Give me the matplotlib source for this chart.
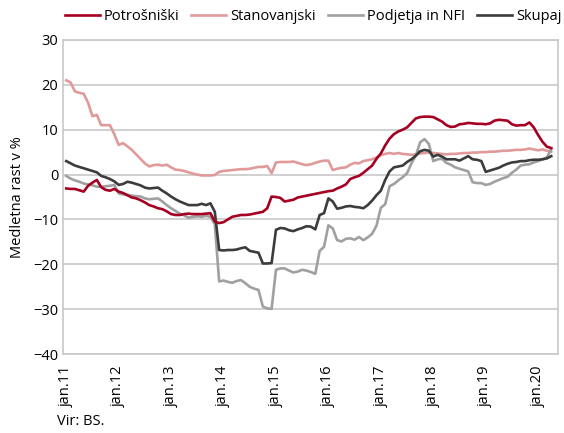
import numpy as np
import matplotlib
matplotlib.use('Agg')
import matplotlib.pyplot as plt

# monthly growth rates, jan.11 .. apr.20
potrosniski = [-3.1, -3.2, -3.2, -3.5, -3.8, -2.5, -1.8, -1.2, -2.8, -3.4,
               -3.6, -3.2, -3.8, -4.1, -4.6, -5.1, -5.3, -5.7, -6.2, -6.8,
               -7.1, -7.5, -7.7, -8.2, -8.8, -9.0, -9.0, -8.8, -8.7, -8.8,
               -8.8, -8.8, -8.7, -8.6, -10.5, -10.8, -10.6, -10.0, -9.4, -9.2,
               -9.0, -9.0, -8.9, -8.7, -8.5, -8.3, -7.5, -4.9, -5.0, -5.2,
               -6.0, -5.8, -5.6, -5.1, -4.9, -4.7, -4.5, -4.3, -4.1, -3.9,
               -3.7, -3.6, -3.1, -2.7, -2.2, -1.0, -0.6, -0.3, 0.4, 1.2,
               2.0, 3.5, 4.7, 6.5, 8.0, 9.0, 9.6, 10.0, 10.5, 11.5,
               12.5, 12.8, 12.9, 12.9, 12.8, 12.3, 11.8, 11.0, 10.6, 10.7,
               11.2, 11.3, 11.5, 11.4, 11.3, 11.3, 11.2, 11.4, 12.0, 12.2,
               12.1, 12.0, 11.2, 10.9, 11.0, 11.0, 11.6, 10.5, 8.8, 7.3,
               6.2, 5.9]

stanovanjski = [21.0, 20.5, 18.5, 18.2, 18.0, 16.0, 13.0, 13.3, 11.0, 11.0,
                11.0, 9.0, 6.6, 7.0, 6.3, 5.5, 4.5, 3.5, 2.5, 1.8,
                2.1, 2.2, 2.0, 2.2, 1.6, 1.1, 1.0, 0.8, 0.5, 0.2,
                0.0, -0.2, -0.2, -0.2, -0.1, 0.6, 0.8, 0.9, 1.0, 1.1,
                1.2, 1.2, 1.3, 1.5, 1.7, 1.7, 1.9, 0.3, 2.7, 2.8,
                2.8, 2.8, 2.9, 2.6, 2.3, 2.1, 2.3, 2.6, 2.9, 3.1,
                3.1, 1.0, 1.3, 1.5, 1.6, 2.2, 2.6, 2.5, 3.0, 3.2,
                3.4, 3.8, 4.3, 4.6, 4.8, 4.6, 4.8, 4.6, 4.5, 4.4,
                4.5, 4.7, 4.8, 4.9, 4.8, 4.7, 4.6, 4.5, 4.6, 4.6,
                4.7, 4.8, 4.8, 4.9, 4.9, 5.0, 5.0, 5.1, 5.1, 5.2,
                5.3, 5.3, 5.4, 5.5, 5.5, 5.6, 5.8, 5.6, 5.4, 5.6,
                5.3, 5.1]

podjetja = [-0.3, -0.9, -1.3, -1.6, -2.0, -2.2, -2.4, -2.7, -2.7, -2.6,
            -2.5, -2.3, -4.2, -4.4, -4.5, -4.7, -4.8, -4.9, -5.3, -5.5,
            -5.4, -5.3, -6.0, -6.8, -7.5, -8.1, -8.7, -9.1, -9.6, -9.4,
            -9.3, -9.4, -9.2, -9.4, -11.0, -23.8, -23.6, -23.9, -24.1, -23.7,
            -23.5, -24.2, -25.0, -25.4, -25.7, -29.4, -29.8, -29.9, -21.2, -20.9,
            -20.9, -21.4, -21.8, -21.6, -21.2, -21.4, -21.7, -22.1, -17.0, -16.1,
            -11.3, -12.0, -14.6, -14.9, -14.3, -14.2, -14.5, -13.9, -14.6, -14.0,
            -13.2, -11.4, -7.4, -6.6, -2.6, -2.1, -1.3, -0.6, 0.3, 2.5,
            4.2, 7.2, 7.9, 6.8, 3.0, 3.4, 3.5, 2.6, 2.2, 1.6,
            1.3, 1.0, 0.7, -1.7, -1.9, -1.9, -2.3, -2.1, -1.6, -1.2,
            -0.8, -0.5, 0.4, 1.1, 2.0, 2.2, 2.3, 2.7, 3.0, 3.4,
            3.8, 5.7]

skupaj = [3.0, 2.5, 2.0, 1.7, 1.4, 1.1, 0.8, 0.5, -0.3, -0.6,
          -1.0, -1.5, -2.3, -2.1, -1.6, -1.8, -2.1, -2.4, -2.9, -3.1,
          -3.0, -2.9, -3.6, -4.2, -4.9, -5.5, -6.0, -6.4, -6.8, -6.8,
          -6.8, -6.5, -6.8, -6.4, -8.3, -16.8, -16.9, -16.8, -16.8, -16.7,
          -16.4, -16.2, -17.0, -17.2, -17.4, -19.8, -19.8, -19.7, -12.3, -11.9,
          -12.0, -12.4, -12.6, -12.2, -11.9, -11.5, -11.6, -12.2, -9.0, -8.6,
          -5.3, -6.0, -7.6, -7.4, -7.1, -7.0, -7.2, -7.3, -7.5, -6.8,
          -5.8, -4.6, -3.6, -1.2, 0.7, 1.6, 1.8, 2.0, 2.8, 3.4,
          4.2, 5.2, 5.5, 5.3, 4.0, 4.4, 4.0, 3.4, 3.4, 3.4,
          3.1, 3.6, 4.1, 3.4, 3.3, 3.0, 0.6, 0.9, 1.2, 1.5,
          2.0, 2.4, 2.7, 2.8, 3.0, 3.0, 3.2, 3.3, 3.3, 3.4,
          3.6, 4.1]

tick_labels = ['jan.11', 'jan.12', 'jan.13', 'jan.14', 'jan.15',
               'jan.16', 'jan.17', 'jan.18', 'jan.19', 'jan.20']

plt.rcParams['font.family'] = ['Open Sans', 'DejaVu Sans']

months = np.arange(len(skupaj))

fig = plt.figure(figsize=(5.64, 4.33), dpi=100)
ax = fig.add_axes([0.112, 0.182, 0.877, 0.726])

ax.plot(months, stanovanjski, color='#E09A9A', lw=1.9, label='Stanovanjski', zorder=3)
ax.plot(months, podjetja, color='#A0A0A0', lw=1.9, label='Podjetja in NFI', zorder=3)
ax.plot(months, skupaj, color='#3C3C3C', lw=1.9, label='Skupaj', zorder=4)
ax.plot(months, potrosniski, color='#A50021', lw=1.9, label='Potrošniški', zorder=5)

ax.set_ylim(-40, 30)
ax.set_yticks(range(-40, 31, 10))
ax.set_xlim(-0.7, 112.5)
ax.set_xticks(range(0, len(skupaj), 12))
ax.set_xticklabels(tick_labels, rotation=90)
ax.tick_params(length=0, labelsize=10.5, colors='black')
ax.tick_params(axis='x', pad=8)
ax.grid(axis='y', color='#C8C8C8', lw=1.2)
ax.set_axisbelow(True)
for s in ax.spines.values():
    s.set_color('#C8C8C8')
    s.set_linewidth(1.2)

ax.set_ylabel('Medletna rast v %', fontsize=10.5, labelpad=6)

handles, labels = ax.get_legend_handles_labels()
order = [3, 0, 1, 2]
fig.legend([handles[i] for i in order], [labels[i] for i in order],
           loc='upper center', bbox_to_anchor=(0.555, 1.01), ncol=4, frameon=False,
           fontsize=10.5, handlelength=2.4, handletextpad=0.3, columnspacing=0.8)

fig.text(0.101, 0.018, 'Vir: BS.', fontsize=10.5)

fig.savefig('out.png', dpi=100)
